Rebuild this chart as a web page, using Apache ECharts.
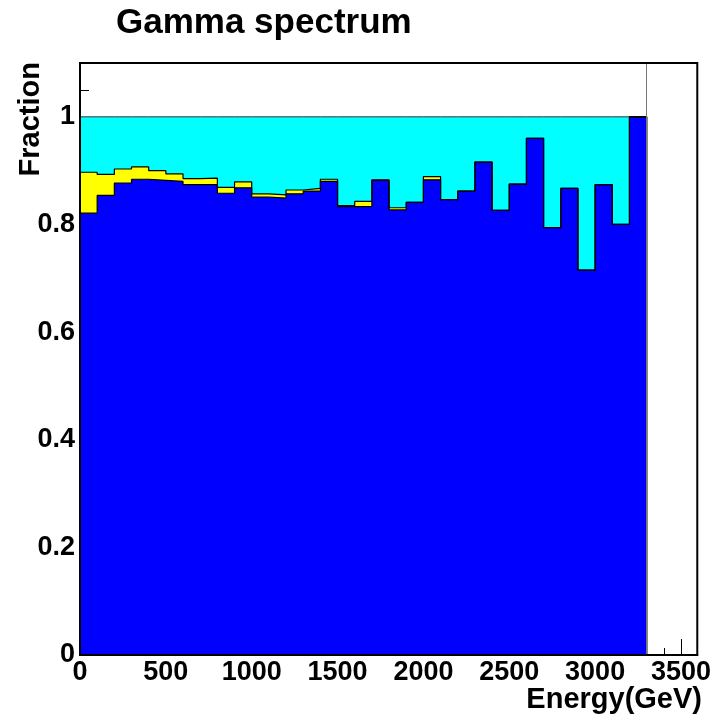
<!DOCTYPE html>
<html>
<head>
<meta charset="utf-8">
<script src="https://cdn.jsdelivr.net/npm/echarts@6/dist/echarts.min.js"></script>
<style>
html,body{margin:0;padding:0;background:#fff;}
#chart{width:714px;height:719px;}
</style>
</head>
<body>
<div id="chart"></div>
<script>
// Lower edges of the energy bins (GeV), bin width 100 GeV
const energyBins = [0,100,200,300,400,500,600,700,800,900,1000,1100,1200,1300,1400,1500,1600,1700,1800,1900,2000,2100,2200,2300,2400,2500,2600,2700,2800,2900,3000,3100,3200];
const binWidth = 100;
// Blue component fraction per bin
const blueFrac = [0.821,0.854,0.877,0.884,0.882,0.880,0.874,0.874,0.858,0.868,0.851,0.849,0.857,0.862,0.880,0.833,0.833,0.882,0.827,0.841,0.883,0.846,0.862,0.916,0.826,0.875,0.960,0.794,0.867,0.715,0.874,0.800,1.000];
// Yellow component fraction per bin
const yellowFrac = [0.076,0.039,0.026,0.023,0.018,0.014,0.011,0.012,0.011,0.011,0.006,0.006,0.007,0.005,0.004,0.002,0.010,0.001,0.004,0.000,0.006,0,0,0,0,0,0,0,0,0,0,0,0];
// Cyan component: the remainder up to 1
const cyanFrac = blueFrac.map((b, i) => Math.max(0, 1 - b - yellowFrac[i]));

const xTicks = [0,500,1000,1500,2000,2500,3000,3500];
const yTicks = [0,0.2,0.4,0.6,0.8,1];

function stepData(vals) {
  const last = energyBins.length - 1;
  const d = energyBins.map((e, i) => [e, vals[i]]);
  d.push([energyBins[last] + binWidth, vals[last]]);
  d.push([energyBins[last] + binWidth, 0]);
  return d;
}
const blueTop = blueFrac.slice();
const yellowTop = blueFrac.map((b, i) => b + yellowFrac[i]);
const cyanTop = yellowTop.map((y, i) => y + cyanFrac[i]);

const FONT = '"Liberation Sans", Arial, Helvetica, sans-serif';

function histSeries(name, vals, fill, stroke, w) {
  return {
    name: name,
    type: 'line',
    step: 'end',
    data: stepData(vals),
    showSymbol: false,
    symbol: 'none',
    silent: true,
    animation: false,
    clip: true,
    lineStyle: { color: stroke, width: w },
    areaStyle: { color: fill, opacity: 1, origin: 'start' }
  };
}

const chart = echarts.init(document.getElementById('chart'), null, { renderer: 'canvas' });
const series = [
  histSeries('cyan', cyanTop, '#00FFFF', '#333333', 1),
  histSeries('yellow', yellowTop, '#FFFF00', '#000000', 1.2),
  histSeries('blue', blueTop, '#0000FF', '#000000', 1.2)
];
series[2].markLine = {
  silent: true, symbol: 'none', animation: false,
  label: { show: false },
  lineStyle: { color: '#777777', width: 1, type: 'solid' },
  data: [{ xAxis: energyBins[energyBins.length - 1] + binWidth }]
};

chart.setOption({
  backgroundColor: '#ffffff',
  animation: false,
  title: {
    text: 'Gamma spectrum',
    left: 111, top: 1,
    textStyle: { fontFamily: FONT, fontWeight: 'bold', fontSize: 35, color: '#000' }
  },
  grid: {
    left: 80, top: 63, right: 13, bottom: 64,
    show: true, z: 10, borderColor: '#000', borderWidth: 2, backgroundColor: 'transparent'
  },
  xAxis: {
    type: 'value', min: 0, max: 3595, interval: 500,
    axisLine: { show: true, onZero: false, lineStyle: { color: '#000', width: 2 } },
    axisTick: { show: true, inside: true, length: 16, lineStyle: { color: '#000', width: 1 } },
    minorTick: { show: true, splitNumber: 5, length: 7, lineStyle: { color: '#000', width: 1 } },
    splitLine: { show: false },
    axisLabel: {
      margin: 4, showMaxLabel: false,
      fontFamily: FONT, fontWeight: 'bold', fontSize: 27, color: '#000',
      formatter: v => (xTicks.indexOf(v) >= 0 ? String(v) : '')
    }
  },
  yAxis: {
    type: 'value', min: 0, max: 1.1, interval: 0.2,
    axisLine: { show: true, onZero: false, lineStyle: { color: '#000', width: 2 } },
    axisTick: { show: true, inside: true, length: 18, lineStyle: { color: '#000', width: 1 } },
    minorTick: { show: true, splitNumber: 4, length: 9, lineStyle: { color: '#000', width: 1 } },
    splitLine: { show: false },
    axisLabel: {
      margin: 5, showMaxLabel: false,
      fontFamily: FONT, fontWeight: 'bold', fontSize: 27, color: '#000',
      formatter: v => (yTicks.some(t => Math.abs(t - v) < 1e-9) ? String(+v.toFixed(1)) : '')
    }
  },
  graphic: [
    {
      type: 'text', x: 31, y: 62, rotation: Math.PI / 2, silent: true,
      style: { text: 'Fraction', fontFamily: FONT, fontWeight: 'bold', fontSize: 29, fill: '#000', align: 'right', verticalAlign: 'middle' }
    },
    {
      type: 'text', x: 702, y: 700, silent: true,
      style: { text: 'Energy(GeV)', fontFamily: FONT, fontWeight: 'bold', fontSize: 29, fill: '#000', align: 'right', verticalAlign: 'middle' }
    }
  ],
  series: series
});
</script>
</body>
</html>
